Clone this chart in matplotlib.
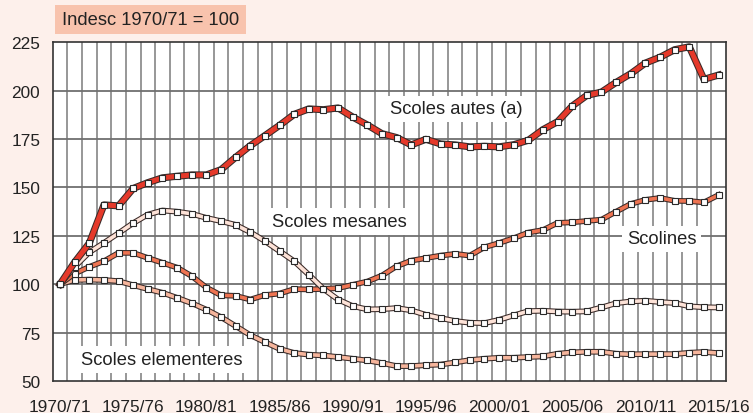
import matplotlib
matplotlib.use("Agg")
import matplotlib.pyplot as plt
import matplotlib.patheffects as pe
import numpy as np

plt.rcParams['font.family'] = ['Liberation Sans', 'DejaVu Sans']

years = list(range(1970, 2016))
tick_years = list(range(1970, 2016, 5))
tick_labels = [f"{y}/{(y + 1) % 100:02d}" for y in tick_years]

autes = [100, 111.4, 121.2, 141, 140.5, 149.5, 152.5, 155, 155.8, 156.5, 156.5, 159.2,
         165.6, 171.6, 176.8, 182.1, 187.8, 190.6, 190.2, 191.1, 186.4, 182.3, 177.8,
         175.8, 172.0, 174.9, 172.5, 172.0, 171.0, 171.3, 171.0, 172.1, 174.4, 179.9,
         184.0, 192.1, 197.6, 199.3, 204.3, 208.8, 214.3, 217.3, 221.2, 222.7, 205.9, 208.1]
scolines = [100, 105.5, 109.0, 111.9, 116.2, 116.2, 113.6, 111.1, 108.6, 104.2, 98.3,
            94.3, 94.0, 92.1, 94.4, 95.2, 97.5, 97.3, 97.6, 98.0, 99.7, 101.4, 104.5,
            109.3, 112.2, 113.5, 114.8, 115.7, 114.8, 119.1, 121.3, 123.8, 126.7, 128.0,
            131.7, 132.0, 132.7, 133.4, 137.5, 141.5, 143.6, 144.6, 143.1, 143.0, 142.3, 146.1]
mesanes = [100, 109, 116.5, 121.4, 126.4, 131.6, 136.0, 138.1, 137.5, 136.4, 134.3,
           132.6, 130.7, 126.9, 122.3, 117.1, 111.9, 104.9, 97.6, 92.1, 88.7, 87.0, 87.1,
           87.7, 86.5, 84.2, 82.5, 81.0, 80.1, 79.9, 81.6, 83.9, 86.1, 86.3, 85.9, 85.8,
           86.0, 88.0, 90.2, 91.1, 91.5, 90.8, 90.3, 88.6, 88.1, 88.0]
elementeres = [100, 102.2, 102.4, 102.2, 101.6, 99.5, 97.5, 95.6, 93.0, 90.2, 86.9,
               83.0, 78.4, 73.7, 70.1, 66.6, 64.5, 63.6, 63.2, 62.4, 61.5, 60.6, 59.3,
               57.7, 57.7, 58.2, 58.5, 59.6, 60.8, 61.5, 62.0, 62.0, 62.4, 62.7, 64.1,
               64.8, 65.1, 65.1, 64.1, 63.8, 63.9, 63.9, 63.9, 64.6, 65.0, 64.4]

series = [
    ("Scoles elementeres", elementeres, '#f6b59c', 2.6),
    ("Scolines", scolines, '#ee7452', 2.6),
    ("Scoles mesanes", mesanes, '#fde2d7', 2.6),
    ("Scoles autes (a)", autes, '#e5392a', 3.6),
]
labels_pos = {
    "Scoles autes (a)": (1997.05, 190.6),
    "Scoles mesanes": (1989.1, 132.4),
    "Scolines": (2011.1, 123.4),
    "Scoles elementeres": (1976.97, 61.1),
}

bg = '#fdf0eb'
fig = plt.figure(figsize=(7.53, 4.14), dpi=100, facecolor=bg)
ax = fig.add_axes([0.070, 0.0773, 0.894, 0.818])
ax.set_facecolor('white')

x = np.array(years)
ax.set_xlim(years[0] - 0.5, years[-1] + 0.5)
ax.set_ylim(50, 225)

for xv in np.arange(years[0] + 0.5, years[-1], 1.0):
    ax.axvline(xv, color='#8f8f8f', lw=1.3, zorder=1)
for yv in range(75, 225, 25):
    ax.axhline(yv, color='#6f6f6f', lw=1.3, zorder=1)

for z, (name, vals, col, lw) in enumerate(series):
    ax.plot(x, vals, color=col, lw=lw, solid_joinstyle='round', zorder=3 + z * 2,
            path_effects=[pe.Stroke(linewidth=lw + 1.5, foreground='#3a2a28'), pe.Normal()])
    ax.plot(x, vals, ls='none', marker='s', ms=5.0, mfc='white', mec='#2a2a2a',
            mew=0.8, zorder=4 + z * 2)

for name, (lx, ly) in labels_pos.items():
    ax.text(lx, ly, name, fontsize=13.2, color='#222222', ha='center', va='center',
            zorder=20, bbox=dict(boxstyle='square,pad=0.25', fc='white', ec='none'))

ax.set_yticks(range(50, 226, 25))
ax.set_xticks(tick_years)
ax.set_xticklabels(tick_labels)
ax.tick_params(axis='both', length=0, labelsize=12.4, colors='#222222')
ax.tick_params(axis='x', pad=13)
ax.tick_params(axis='y', pad=9)
for s in ax.spines.values():
    s.set_color('#333333')
    s.set_linewidth(1.2)

fig.patches.append(plt.Rectangle((55 / 753, 1 - 35 / 414), 191 / 753, 29 / 414,
                                 transform=fig.transFigure, fc='#f8c3ad', ec='none'))
fig.text(150.5 / 753, 1 - 20.5 / 414, "Indesc 1970/71 = 100", fontsize=13.2,
         color='#222222', ha='center', va='center')

fig.savefig('out.png', dpi=100, facecolor=bg)
